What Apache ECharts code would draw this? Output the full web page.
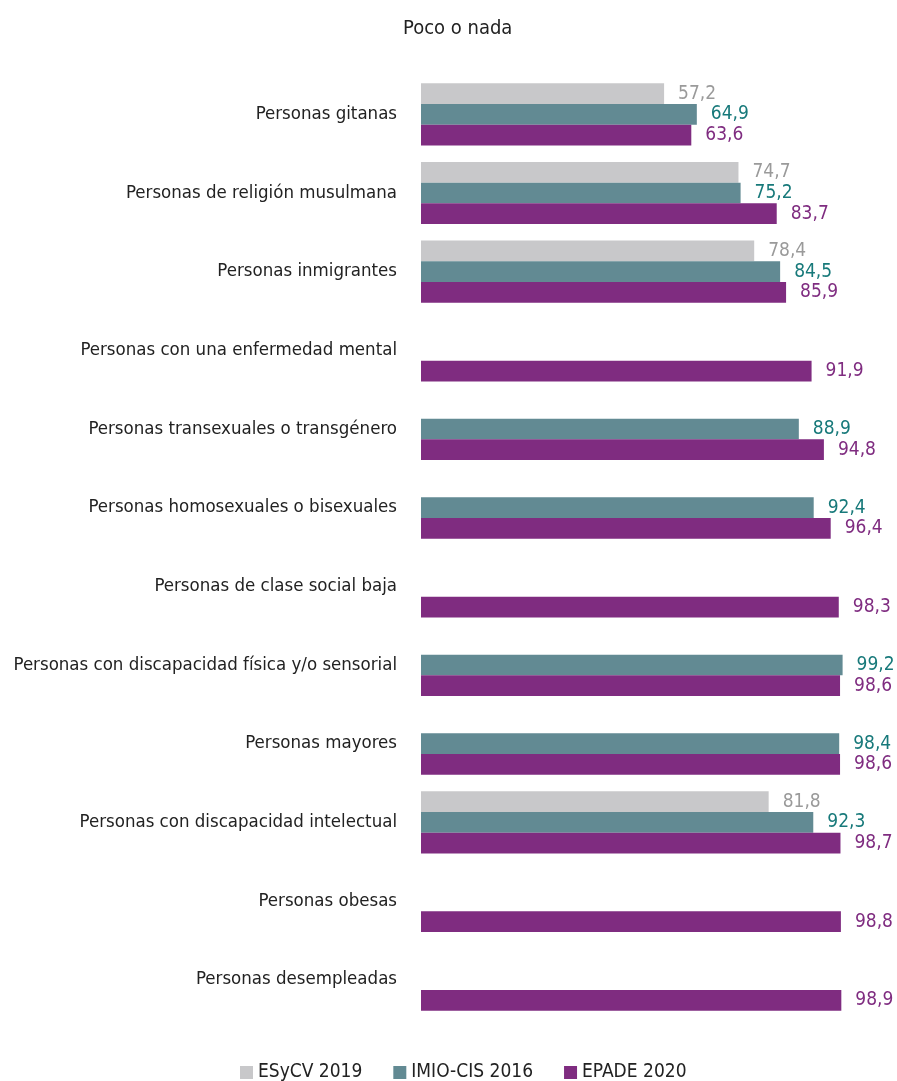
<!DOCTYPE html>
<html><head><meta charset="utf-8">
<script src="https://cdn.jsdelivr.net/npm/echarts@6/dist/echarts.min.js"></script>
<style>html,body{margin:0;padding:0;background:#fff}#c{width:897px;height:1081px}</style>
</head><body><div id="c"></div>
<script>
const categories = [
  "Personas gitanas",
  "Personas de religión musulmana",
  "Personas inmigrantes",
  "Personas con una enfermedad mental",
  "Personas transexuales o transgénero",
  "Personas homosexuales o bisexuales",
  "Personas de clase social baja",
  "Personas con discapacidad física y/o sensorial",
  "Personas mayores",
  "Personas con discapacidad intelectual",
  "Personas obesas",
  "Personas desempleadas"
];
const esycv2019 = [57.2, 74.7, 78.4, null, null, null, null, null, null, 81.8, null, null];
const imio2016  = [64.9, 75.2, 84.5, null, 88.9, 92.4, null, 99.2, 98.4, 92.3, null, null];
const epade2020 = [63.6, 83.7, 85.9, 91.9, 94.8, 96.4, 98.3, 98.6, 98.6, 98.7, 98.8, 98.9];
const seriesNames = ["ESyCV 2019", "IMIO-CIS 2016", "EPADE 2020"];

const FONT = '"Liberation Sans Narrow", "DejaVu Sans Condensed", sans-serif';
const barColors = ["#c8c8ca", "#628a93", "#7f2c80"];
const labelColors = ["#9a9a9a", "#17797a", "#7f2c80"];
const datasets = [esycv2019, imio2016, epade2020];

const chart = echarts.init(document.getElementById('c'), null, {renderer: 'canvas'});
chart.setOption({
  animation: false,
  backgroundColor: '#fff',
  textStyle: {fontFamily: FONT},
  title: {
    text: 'Poco o nada', left: 398, top: 14,
    textStyle: {fontFamily: FONT, fontSize: 20, fontWeight: 'normal', color: '#222'}
  },
  legend: {
    top: 1058, left: 235, itemWidth: 13, itemHeight: 13, itemGap: 31,
    icon: 'rect',
    textStyle: {fontFamily: FONT, fontSize: 19, color: '#222'},
    data: seriesNames
  },
  grid: {left: 421, width: 425, top: 75, height: 944, containLabel: false},
  xAxis: {type: 'value', min: 0, max: 100, show: false},
  yAxis: {
    type: 'category', data: categories, inverse: true,
    axisLine: {show: false}, axisTick: {show: false},
    axisLabel: {fontFamily: FONT, fontSize: 18.5, color: '#222', margin: 24}
  },
  series: datasets.map((d, i) => ({
    name: seriesNames[i], type: 'bar', data: d,
    barGap: '0%', barCategoryGap: '21%',
    itemStyle: {color: barColors[i]},
    label: {
      show: true, position: 'right', distance: 14,
      fontFamily: FONT, fontSize: 19, color: labelColors[i],
      formatter: p => p.value == null ? '' : String(p.value.toFixed(1)).replace('.', ',')
    }
  }))
});
</script></body></html>
